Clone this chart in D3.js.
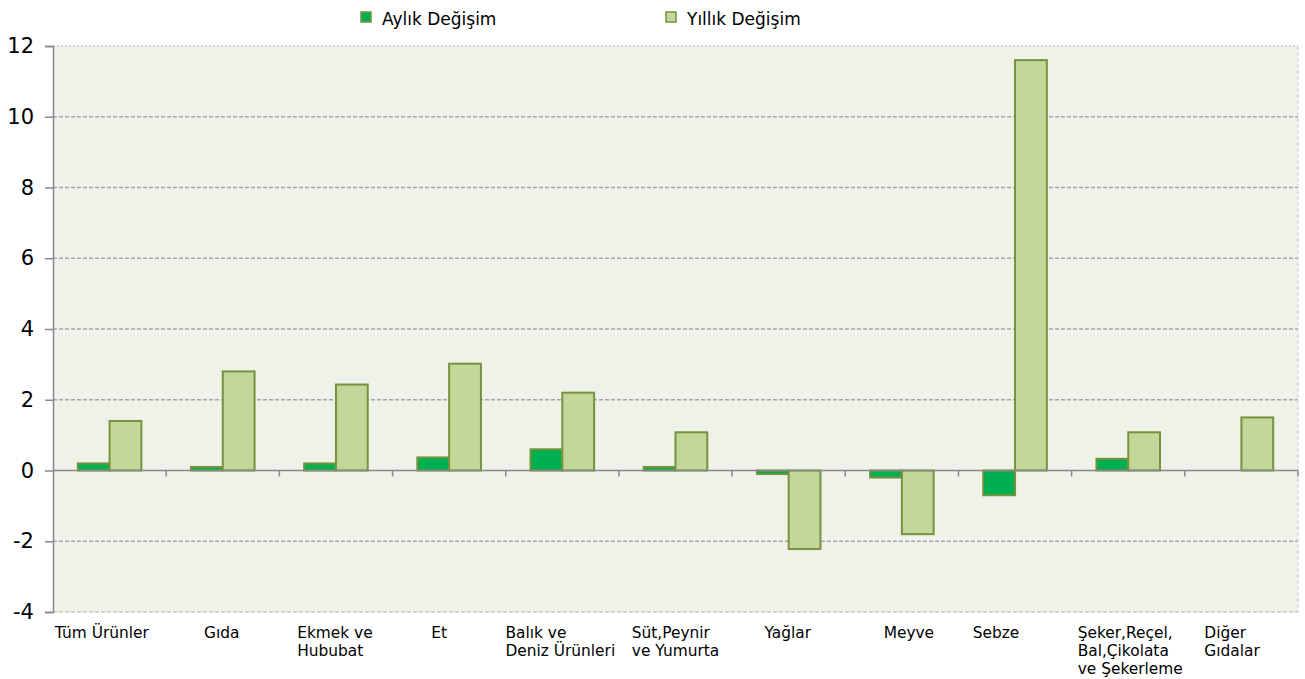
<!DOCTYPE html>
<html>
<head>
<meta charset="utf-8">
<script src="https://cdn.jsdelivr.net/npm/d3@7"></script>
<style>
  body { margin: 0; background: #fff; }
  text { font-family: "DejaVu Sans", Verdana, sans-serif; fill: #000; }
</style>
</head>
<body>
<div id="chart-area"></div>
<script>
const categories = [
    ["Tüm Ürünler"],
    ["Gıda"],
    ["Ekmek ve", "Hububat"],
    ["Et"],
    ["Balık ve", "Deniz Ürünleri"],
    ["Süt,Peynir", "ve Yumurta"],
    ["Yağlar"],
    ["Meyve"],
    ["Sebze"],
    ["Şeker,Reçel,", "Bal,Çikolata", "ve Şekerleme"],
    ["Diğer", "Gıdalar"]
];
const seriesNames = ["Aylık Değişim", "Yıllık Değişim"];
const monthly = [0.2, 0.1, 0.2, 0.37, 0.6, 0.1, -0.1, -0.2, -0.7, 0.33, 0];
const yearly = [1.4, 2.8, 2.43, 3.02, 2.2, 1.08, -2.22, -1.8, 11.6, 1.08, 1.5];
const yTicks = [-4, -2, 0, 2, 4, 6, 8, 10, 12];

const fills = ["#00b050", "#c4d79b"];
const strokeCol = "#76923c";

const width = 1305, height = 679;
const margin = {top: 46, right: 7, bottom: 67, left: 53};
const innerW = width - margin.left - margin.right;
const innerH = height - margin.top - margin.bottom;

// Excel doesn't centre these labels exactly, small horizontal nudges
const labelNudge = [-7, -1, -1, -10, -2, 0, 0, 7, -19, 2, -9];

const svg = d3.select("#chart-area").append("svg")
    .attr("width", width)
    .attr("height", height);

const g = svg.append("g")
    .attr("transform", `translate(${margin.left},${margin.top})`);

const x0 = d3.scaleBand()
    .domain(d3.range(categories.length))
    .range([0, innerW])
    .paddingInner(0)
    .paddingOuter(0);

const x1 = d3.scaleBand()
    .domain(seriesNames)
    .range([0, x0.bandwidth()])
    .paddingInner(0)
    .paddingOuter(0.78);

const y = d3.scaleLinear()
    .domain([-4, 12])
    .range([innerH, 0]);

// plot background
g.append("rect")
    .attr("width", innerW)
    .attr("height", innerH)
    .attr("fill", "#eff2e9");

// grid lines
g.selectAll(".grid")
    .data(yTicks.filter(t => t !== 0))
    .enter()
    .append("line")
    .attr("class", "grid")
    .attr("x1", 0)
    .attr("x2", innerW)
    .attr("y1", d => y(d))
    .attr("y2", d => y(d))
    .attr("stroke", d => (d === 12 || d === -4) ? "#c8c8c8" : "#a6a6a6")
    .attr("stroke-width", 1.3)
    .attr("stroke-dasharray", d => d === 12 ? "2,2" : "4,2");

// right border
g.append("line")
    .attr("x1", innerW).attr("x2", innerW)
    .attr("y1", 0).attr("y2", innerH)
    .attr("stroke", "#d0d0d0")
    .attr("stroke-width", 1)
    .attr("stroke-dasharray", "4,2");

// bars
const data = categories.map((c, i) => ({i: i, vals: [monthly[i], yearly[i]]}));

const groups = g.selectAll(".group")
    .data(data)
    .enter()
    .append("g")
    .attr("class", "group")
    .attr("transform", d => `translate(${x0(d.i)},0)`);

groups.selectAll("rect")
    .data(d => d.vals.map((v, k) => ({key: seriesNames[k], value: v, k: k})))
    .enter()
    .append("rect")
    .attr("x", d => x1(d.key))
    .attr("width", x1.bandwidth())
    .attr("y", d => y(Math.max(0, d.value)))
    .attr("height", d => Math.abs(y(d.value) - y(0)))
    .attr("fill", d => fills[d.k])
    .attr("stroke", strokeCol)
    .attr("stroke-width", 2);

// zero axis line + category ticks
g.append("line")
    .attr("x1", 0).attr("x2", innerW)
    .attr("y1", y(0)).attr("y2", y(0))
    .attr("stroke", "#888")
    .attr("stroke-width", 1.5);

g.selectAll(".xtick")
    .data(d3.range(1, categories.length + 1))
    .enter()
    .append("line")
    .attr("class", "xtick")
    .attr("x1", d => d * x0.step())
    .attr("x2", d => d * x0.step())
    .attr("y1", y(0))
    .attr("y2", y(0) + 6)
    .attr("stroke", "#888")
    .attr("stroke-width", 1.5);

// y axis
const yAxis = g.append("g")
    .call(d3.axisLeft(y).tickValues(yTicks).tickSize(8).tickPadding(11).tickFormat(d => String(d)));
yAxis.select(".domain").attr("stroke", "#888").attr("stroke-width", 1.5);
yAxis.selectAll(".tick line").attr("stroke", "#888").attr("stroke-width", 1.5);
yAxis.selectAll(".tick text")
    .attr("font-size", "21px")
    .attr("font-family", "DejaVu Sans, Verdana, sans-serif")
    .attr("fill", "#000");

// category labels: left aligned lines, block centered on category
const labels = g.selectAll(".xlabel")
    .data(categories)
    .enter()
    .append("text")
    .attr("class", "xlabel")
    .attr("font-size", "15.4px")
    .attr("y", innerH + 26);

labels.each(function (lines) {
    const t = d3.select(this);
    lines.forEach((ln, j) => {
        t.append("tspan")
            .attr("x", 0)
            .attr("dy", j === 0 ? 0 : 18)
            .text(ln);
    });
});

labels.each(function (lines, i) {
    const w = this.getBBox().width;
    const cx = x0(i) + x0.bandwidth() / 2 + labelNudge[i];
    d3.select(this).selectAll("tspan").attr("x", cx - w / 2);
});

// legend
const legendX = [361, 666];
const legend = svg.selectAll(".legend")
    .data(seriesNames)
    .enter()
    .append("g")
    .attr("class", "legend")
    .attr("transform", (d, i) => `translate(${legendX[i]},12)`);

legend.append("rect")
    .attr("width", 10)
    .attr("height", 10)
    .attr("fill", (d, i) => fills[i])
    .attr("stroke", strokeCol)
    .attr("stroke-width", 1.5);

legend.append("text")
    .attr("x", 21)
    .attr("y", 12.5)
    .attr("font-size", "17px")
    .text(d => d);
</script>
</body>
</html>
